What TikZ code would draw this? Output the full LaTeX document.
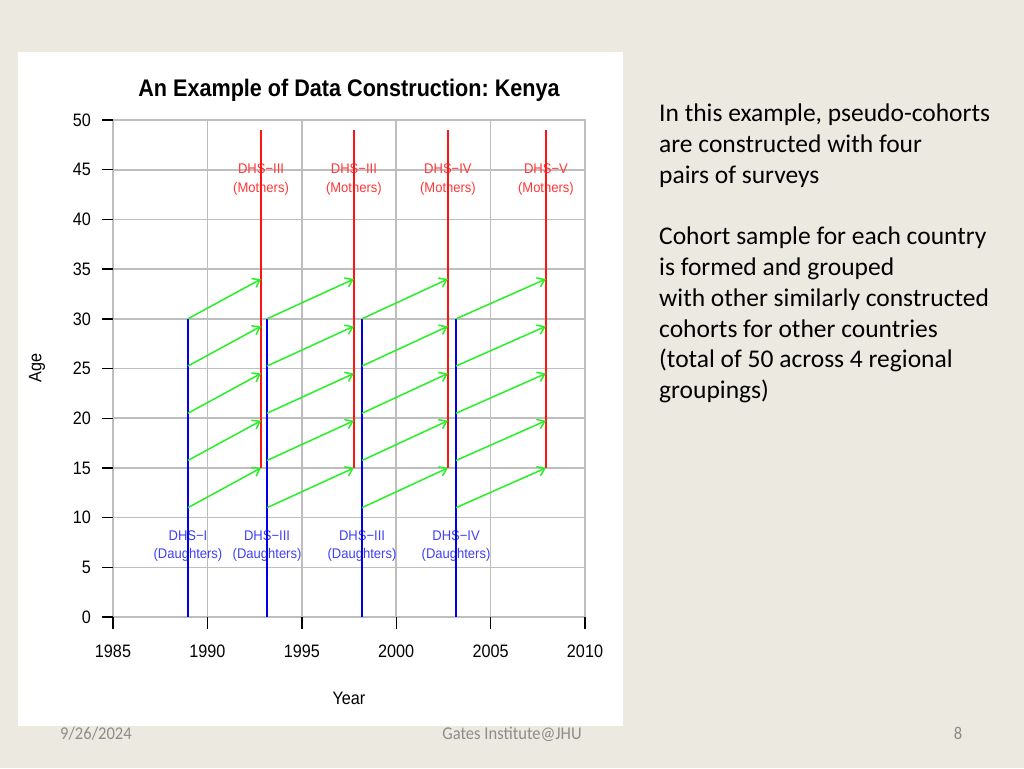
\documentclass[tikz,border=0pt]{standalone}
\usepackage{fontspec}
\setmainfont{Liberation Sans}
\newfontfamily\plotfont[FakeStretch=0.9]{Liberation Sans}
\newfontfamily\labfont[FakeStretch=0.93]{Liberation Sans}
\newfontfamily\slidefont{Carlito}
\newfontfamily\footfont[FakeStretch=0.92]{Carlito}
\usetikzlibrary{arrows.meta}
\frenchspacing
\definecolor{slidebg}{RGB}{235,233,224}
\definecolor{gridgray}{RGB}{190,190,190}
\definecolor{rred}{RGB}{255,20,20}
\definecolor{rblue}{RGB}{0,0,240}
\definecolor{rgreen}{RGB}{40,240,40}
\definecolor{footgray}{RGB}{140,140,140}
\begin{document}
\begin{tikzpicture}[x=1pt,y=-1pt,
  gridline/.style={draw=gridgray,line width=1.6pt},
  tickline/.style={draw=black,line width=1.4pt},
  ticklab/.style={inner sep=0pt,text=black,font=\plotfont\fontsize{18}{20}\selectfont},
  axlab/.style={inner sep=0pt,text=black,font=\plotfont\fontsize{18}{20}\selectfont},
  titlelab/.style={inner sep=0pt,text=black,font=\plotfont\bfseries\fontsize{24}{26}\selectfont},
  mlab/.style={inner sep=0pt,align=center,text=rred!85!white,font=\labfont\fontsize{14}{18.5}\selectfont},
  dlab/.style={inner sep=0pt,align=center,text=rblue!75!white,font=\labfont\fontsize{14}{18.5}\selectfont},
  mline/.style={draw=rred,line width=1.5pt},
  dline/.style={draw=rblue,line width=1.5pt},
  cohort/.style={draw=rgreen,line width=1.5pt,-{Straight Barb[length=7pt,width=10pt]}},
  slidetext/.style={inner sep=0pt,align=left,anchor=north west,font=\slidefont\fontsize{25.5}{30.7}\selectfont},
  foot/.style={inner sep=0pt,text=footgray,font=\footfont\fontsize{18}{20}\selectfont}]
\useasboundingbox (0,0) rectangle (1024,768);
\fill[slidebg] (0,0) rectangle (1024,768);
\fill[white] (18,52) rectangle (623,726);
\node[titlelab,anchor=base] (title) at (349,96) {An Example of Data Construction: Kenya};
\node[axlab,rotate=90] (agelab) at (37,368) {Age};
\node[axlab] (yearlab) at (349,698) {Year};
\begin{scope}[shift={(113,617)},x=18.88pt,y=9.94pt]
  % grid
  \foreach \a in {5,10,...,45} \draw[gridline] (0,\a) -- (25,\a);
  \foreach \t in {5,10,15,20} \draw[gridline] (\t,0) -- (\t,50);
  \draw[gridline] (0,0) rectangle (25,50);
  % axes ticks and labels
  \foreach \a in {0,5,...,50} {
    \draw[tickline] (0,\a) -- ++(-11pt,0);
    \node[ticklab,anchor=east] (yl\a) at ([xshift=-22pt]0,\a) {\a};
  }
  \foreach \t/\yr in {0/1985,5/1990,10/1995,15/2000,20/2005,25/2010} {
    \draw[tickline] (\t,0) -- ++(0,-12pt);
    \node[ticklab] (xl\yr) at ([yshift=-34pt]\t,0) {\yr};
  }
  % survey positions
  \coordinate (b1) at (3.97,0);  \coordinate (r1) at (7.84,0);
  \coordinate (b2) at (8.16,0);  \coordinate (r2) at (12.76,0);
  \coordinate (b3) at (13.19,0); \coordinate (r3) at (17.74,0);
  \coordinate (b4) at (18.17,0); \coordinate (r4) at (22.93,0);
  % labels
  \node[mlab] (m1) at ([yshift=44.0*9.94pt]r1) {DHS−III\\(Mothers)};
  \node[mlab] (m2) at ([yshift=44.0*9.94pt]r2) {DHS−III\\(Mothers)};
  \node[mlab] (m3) at ([yshift=44.0*9.94pt]r3) {DHS−IV\\(Mothers)};
  \node[mlab] (m4) at ([yshift=44.0*9.94pt]r4) {DHS−V\\(Mothers)};
  \node[dlab] (d1) at ([yshift=7.15*9.94pt]b1) {DHS−I\\(Daughters)};
  \node[dlab] (d2) at ([yshift=7.15*9.94pt]b2) {DHS−III\\(Daughters)};
  \node[dlab] (d3) at ([yshift=7.15*9.94pt]b3) {DHS−III\\(Daughters)};
  \node[dlab] (d4) at ([yshift=7.15*9.94pt]b4) {DHS−IV\\(Daughters)};
  % vertical survey lines
  \foreach \i in {1,2,3,4} {
    \draw[dline] (b\i) -- ([yshift=30*9.94pt]b\i);
    \draw[mline] ([yshift=15*9.94pt]r\i) -- ([yshift=49*9.94pt]r\i);
  }
  % cohort arrows
  \foreach \i in {1,2,3,4} {
    \foreach \s [count=\j] in {11,15.75,20.5,25.25,30} {
      \coordinate (s\i-\j) at ([yshift=\s*9.94pt]b\i);
      \coordinate (e\i-\j) at ([yshift=(\s+4)*9.94pt]r\i);
      \draw[cohort] (s\i-\j) -- (e\i-\j);
    }
  }
\end{scope}
\node[slidetext] (txt1) at (659,104) {In this example, pseudo-cohorts\\are constructed with four\\pairs of surveys};
\node[slidetext] (txt2) at (659,227) {Cohort sample for each country\\is formed and grouped\\with other similarly constructed\\cohorts for other countries\\(total of 50 across 4 regional\\groupings)};
\node[foot,anchor=base west] (date) at (60,739) {9/26/2024};
\node[foot,anchor=base] (inst) at (512,739) {Gates Institute@JHU};
\node[foot,anchor=base] (page) at (958,739) {8};
\end{tikzpicture}
\end{document}
